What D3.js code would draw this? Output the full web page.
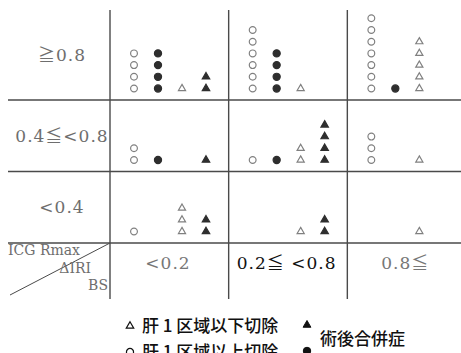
<!DOCTYPE html>
<html>
<head>
<meta charset="utf-8">
<script src="https://cdn.jsdelivr.net/npm/d3@7"></script>
<style>
  html, body { margin: 0; padding: 0; background: #fff; }
  svg { display: block; }
</style>
</head>
<body>
<svg id="chart" width="461" height="353"></svg>
<script>
// ICG Rmax (rows) x ΔIRI/BS (columns) grid; each cell stacks one symbol per case
const rowLabels = ["≧0.8", "0.4≦<0.8", "<0.4"];
const colLabels = ["<0.2", "0.2≦ <0.8", "0.8≦"];
const seriesKeys = ["majorOk", "majorComp", "minorOk", "minorComp"];

// case counts per [row][column]
const majorOk   = [[4, 6, 7], [2, 1, 3], [1, 0, 0]]; // ○ 肝1区域以上切除
const majorComp = [[4, 4, 1], [1, 1, 0], [0, 0, 0]]; // ● 肝1区域以上切除 + 術後合併症
const minorOk   = [[1, 1, 5], [0, 2, 1], [3, 1, 1]]; // △ 肝1区域以下切除
const minorComp = [[2, 0, 0], [1, 4, 0], [2, 2, 0]]; // ▲ 肝1区域以下切除 + 術後合併症

const counts = { majorOk, majorComp, minorOk, minorComp };
const style = {
  majorOk:   { shape: d3.symbolCircle,   fill: "none", stroke: "#808080", size: 36 },
  majorComp: { shape: d3.symbolCircle,   fill: "#2e2e2e", stroke: "#2e2e2e", size: 40 },
  minorOk:   { shape: d3.symbolTriangle, fill: "none", stroke: "#808080", size: 22 },
  minorComp: { shape: d3.symbolTriangle, fill: "#2e2e2e", stroke: "#2e2e2e", size: 24 }
};

const svg = d3.select("#chart");
const serif = "'DejaVu Serif','Liberation Serif','Noto Sans CJK JP',serif";
const gothic = "'Noto Sans CJK JP','Noto Sans',sans-serif";

const x = d3.scaleBand().domain(colLabels).range([110, 466]);
const y = d3.scaleBand().domain(rowLabels).range([28.5, 243]);
const sub = d3.scalePoint().domain(seriesKeys).range([24, 96]);
const stack = d3.scaleLinear().domain([0, 1]).range([-11.5, -23.2]);

// grid lines
const lineColor = "#4a4a4a";
const g = svg.append("g").attr("stroke", lineColor).attr("stroke-width", 1.4);
rowLabels.forEach(r => {
  g.append("line").attr("x1", 8).attr("x2", 461)
    .attr("y1", y(r) + y.bandwidth()).attr("y2", y(r) + y.bandwidth());
});
colLabels.forEach(c => {
  g.append("line").attr("x1", x(c)).attr("x2", x(c)).attr("y1", 10).attr("y2", 299);
});
// diagonal of the corner header
g.append("line").attr("x1", 10).attr("y1", 295).attr("x2", 110).attr("y2", 243)
  .attr("stroke-width", 1);

// row labels
svg.append("g").selectAll("text").data(rowLabels).join("text")
  .attr("x", 62).attr("y", r => y(r) + y.bandwidth() / 2 - (r === rowLabels[0] ? 9 : 0))
  .attr("dy", "0.35em").attr("text-anchor", "middle")
  .attr("font-family", serif).attr("font-size", 17).attr("letter-spacing", 1)
  .attr("fill", "#6e6e6e")
  .text(d => d);

// column labels
svg.append("g").selectAll("text").data(colLabels).join("text")
  .attr("x", c => x(c) + 58).attr("y", 263)
  .attr("dy", "0.35em").attr("text-anchor", "middle")
  .attr("font-family", serif).attr("font-size", 17).attr("letter-spacing", 1)
  .attr("fill", (c, i) => i === 1 ? "#111" : "#777")
  .text(d => d);

// corner header texts
const corner = svg.append("g").attr("font-family", serif).attr("font-size", 14).attr("fill", "#6e6e6e");
corner.append("text").attr("x", 8).attr("y", 255).text("ICG Rmax");
corner.append("text").attr("x", 91).attr("y", 273).attr("text-anchor", "end").text("ΔIRI");
corner.append("text").attr("x", 108).attr("y", 290).attr("text-anchor", "end").text("BS");

// case symbols
const cells = [];
rowLabels.forEach((r, ri) => colLabels.forEach((c, ci) => seriesKeys.forEach(k => {
  d3.range(counts[k][ri][ci]).forEach(i => cells.push({ r, c, k, i }));
})));
svg.append("g").selectAll("path").data(cells).join("path")
  .attr("transform", d => `translate(${x(d.c) + sub(d.k)},${y(d.r) + y.bandwidth() + stack(d.i)})`)
  .attr("d", d => d3.symbol(style[d.k].shape, style[d.k].size)())
  .attr("fill", d => style[d.k].fill)
  .attr("stroke", d => style[d.k].stroke)
  .attr("stroke-width", 1.2);

// legend
const leg = svg.append("g");
const legendRows = [
  { k: "minorOk", comp: "minorComp", label: "肝 1 区域以下切除", y: 326 },
  { k: "majorOk", comp: "majorComp", label: "肝 1 区域以上切除", y: 352 }
];
legendRows.forEach(d => {
  leg.append("path").attr("transform", `translate(130,${d.y})`)
    .attr("d", d3.symbol(style[d.k].shape, style[d.k].size * 1.1)())
    .attr("fill", "none").attr("stroke", "#111").attr("stroke-width", 1.2);
  leg.append("text").attr("x", 142).attr("y", d.y).attr("dy", "0.36em")
    .attr("font-family", gothic).attr("font-size", 17).attr("font-weight", 500)
    .attr("fill", "#111").text(d.label);
  leg.append("path").attr("transform", `translate(307,${d.y - 1})`)
    .attr("d", d3.symbol(style[d.comp].shape, style[d.comp].size * 1.1)())
    .attr("fill", "#111").attr("stroke", "#111");
});
leg.append("text").attr("x", 320).attr("y", 339).attr("dy", "0.36em")
  .attr("font-family", gothic).attr("font-size", 17).attr("font-weight", 500)
  .attr("fill", "#111").text("術後合併症");
</script>
</body>
</html>
